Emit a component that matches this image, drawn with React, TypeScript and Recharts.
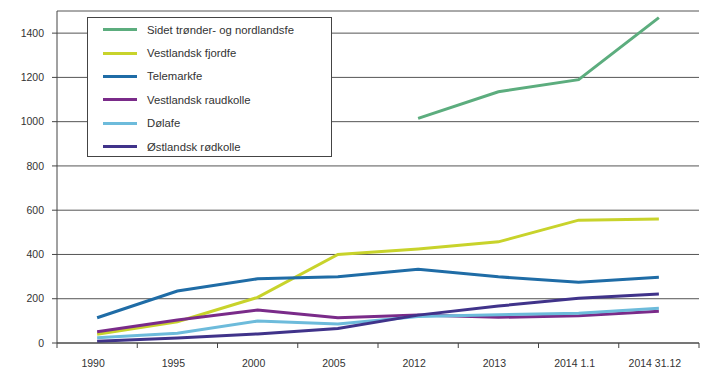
import { LineChart, Line, XAxis, YAxis, CartesianGrid, Legend } from "recharts";

const years = ["1990", "1995", "2000", "2005", "2012", "2013", "2014 1.1", "2014 31.12"];

const sidetTrønder = [null, null, null, null, 1015, 1135, 1190, 1470];
const vestlandskFjordfe = [40, 96, 206, 400, 425, 457, 555, 560];
const telemarkfe = [114, 235, 290, 299, 333, 299, 274, 297];
const vestlandskRaudkolle = [51, 104, 149, 114, 126, 116, 123, 144];
const dolafe = [24, 44, 99, 86, 120, 128, 134, 157];
const ostlandskRodkolle = [8, 23, 41, 66, 126, 167, 202, 221];

const yTicks = [0, 200, 400, 600, 800, 1000, 1200, 1400];

const series = [
  { key: "Sidet trønder- og nordlandsfe", values: sidetTrønder, color: "#5cad7e" },
  { key: "Vestlandsk fjordfe", values: vestlandskFjordfe, color: "#c8d32b" },
  { key: "Telemarkfe", values: telemarkfe, color: "#1f6ca6" },
  { key: "Vestlandsk raudkolle", values: vestlandskRaudkolle, color: "#7a2b89" },
  { key: "Dølafe", values: dolafe, color: "#6dbbdb" },
  { key: "Østlandsk rødkolle", values: ostlandskRodkolle, color: "#40338a" },
];

const data = years.map((year, i) => {
  const row: Record<string, string | number | null> = { year };
  for (const s of series) row[s.key] = s.values[i];
  return row;
});

const W = 719;
const H = 383;
const margin = { top: 11, right: 20, bottom: 0, left: 0 };
const yAxisWidth = 57;
const axisColor = "#444";
const textColor = "#333";
const font = "'Liberation Sans', Arial, sans-serif";

// kategoriene har tick-strek på grensene, ikke midt i båndet
const band = (W - margin.left - margin.right - yAxisWidth) / years.length;

function XTick(props: any) {
  const { x, y, payload, index } = props;
  const last = index === years.length - 1;
  return (
    <g>
      <line x1={x - band / 2} x2={x - band / 2} y1={y} y2={y + 5} stroke={axisColor} />
      {last && <line x1={x + band / 2} x2={x + band / 2} y1={y} y2={y + 5} stroke={axisColor} />}
      <text x={x - 4} y={y + 23.5} textAnchor="middle" fontSize={10.5} fill={textColor} fontFamily={font}>
        {payload.value}
      </text>
    </g>
  );
}

function LegendBox() {
  return (
    <div
      style={{
        border: "1px solid #444",
        background: "#fff",
        width: 245,
        height: 140,
        boxSizing: "border-box",
        fontFamily: font,
        fontSize: 11.3,
        color: textColor,
      }}
    >
      {series.map((s) => (
        <div key={s.key} style={{ display: "flex", alignItems: "center", height: 23.4 }}>
          <div style={{ width: 34, height: 3, background: s.color, marginLeft: 15, marginRight: 10 }} />
          <span>{s.key}</span>
        </div>
      ))}
    </div>
  );
}

export default function App() {
  return (
    <div style={{ position: "absolute", left: 0, top: 0 }}>
      <LineChart width={W} height={H} data={data} margin={margin}>
        <CartesianGrid vertical={false} stroke="#555" strokeWidth={1} />
        <XAxis
          dataKey="year"
          interval={0}
          height={40}
          padding={{ left: band / 2, right: band / 2 }}
          tickSize={0}
          tickMargin={0}
          tickLine={false}
          axisLine={{ stroke: axisColor }}
          tick={(p: any) => <XTick {...p} />}
        />
        <YAxis
          width={yAxisWidth}
          domain={[0, 1500]}
          ticks={yTicks}
          interval={0}
          tickSize={5}
          tickMargin={8}
          axisLine={{ stroke: axisColor }}
          tickLine={{ stroke: axisColor }}
          tick={{ fontSize: 10.5, fill: textColor, fontFamily: font }}
        />
        <Legend
          layout="vertical"
          align="center"
          verticalAlign="middle"
          wrapperStyle={{ top: 17, left: 87, width: 245 }}
          content={() => <LegendBox />}
        />
        {series.map((s) => (
          <Line
            key={s.key}
            dataKey={s.key}
            stroke={s.color}
            strokeWidth={3}
            dot={false}
            activeDot={false}
            type="linear"
            isAnimationActive={false}
          />
        ))}
      </LineChart>
    </div>
  );
}
